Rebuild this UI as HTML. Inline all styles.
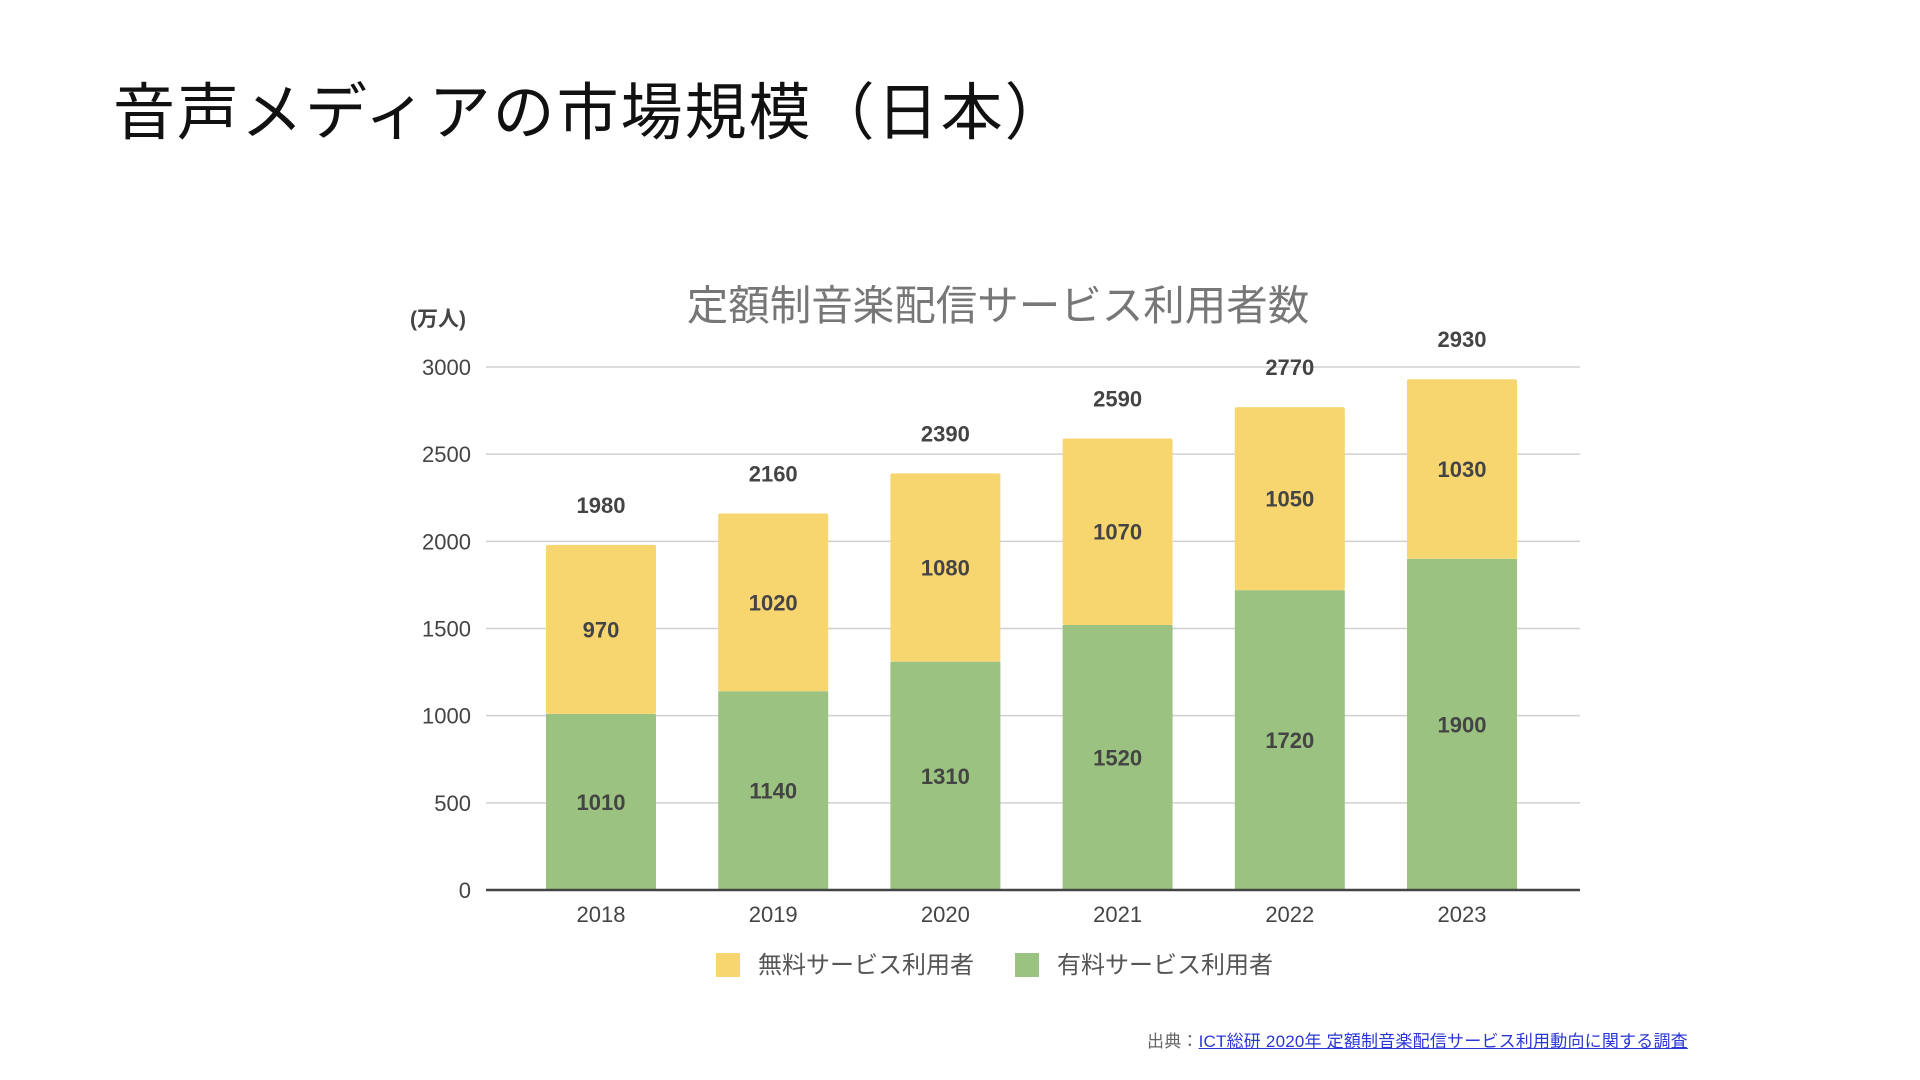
<!DOCTYPE html>
<html><head><meta charset="utf-8"><style>
html,body{margin:0;padding:0;background:#fff;}
body{width:1920px;height:1080px;position:relative;overflow:hidden;font-family:"Liberation Sans","Noto Sans CJK JP",sans-serif;}
#title{position:absolute;left:113px;top:62px;font-size:62px;color:#111;white-space:nowrap;letter-spacing:2px;}
#src{position:absolute;left:1147px;top:1027px;font-size:17px;color:#666;white-space:nowrap;letter-spacing:0.2px;}
#src a{color:#2a36d8;text-decoration:underline;}
</style></head><body>
<div id="title">音声メディアの市場規模（日本）</div>
<svg id="chart" width="1920" height="1080" style="position:absolute;left:0;top:0"></svg>
<div id="src">出典：<a>ICT総研 2020年 定額制音楽配信サービス利用動向に関する調査</a></div>
<script>
const categories=["2018","2019","2020","2021","2022","2023"];
const paidValues=[1010,1140,1310,1520,1720,1900];
const freeValues=[970,1020,1080,1070,1050,1030];
const totalValues=[1980,2160,2390,2590,2770,2930];
const yTicks=[0,500,1000,1500,2000,2500,3000];
const seriesNames=["無料サービス利用者","有料サービス利用者"];

const NS="http://www.w3.org/2000/svg";
const svg=document.getElementById('chart');
const y0=890,yTop=367,yMax=3000;
const y=v=>y0-(v/yMax)*(y0-yTop);
const x=i=>601+i*172.2;
const bw=110;
function mk(tag,attrs,parent){const e=document.createElementNS(NS,tag);for(const k in attrs)e.setAttribute(k,attrs[k]);(parent||svg).appendChild(e);return e;}
const F='"Liberation Sans","Noto Sans CJK JP",sans-serif';

let t=mk('text',{x:998,y:320,'text-anchor':'middle','font-size':41.5,fill:'#777','font-family':F});
t.textContent="定額制音楽配信サービス利用者数";


t=mk('text',{x:410,y:326,'font-size':21,'font-weight':'bold',fill:'#444','font-family':F});
t.textContent="(万人)";



yTicks.forEach(v=>{
  if(v>0){const l=mk('line',{x1:486,x2:1580,y1:y(v),y2:y(v),stroke:'#d0d0d0','stroke-width':1.5});
  
  }
  const tx=mk('text',{x:471,y:y(v)+8,'text-anchor':'end','font-size':22,fill:'#444','font-family':F});
  tx.textContent=v;
  
  
});

categories.forEach((c,i)=>{
  const cx=x(i);
  const g=mk('g',{});
  
  
  let r=mk('rect',{x:cx-bw/2,y:y(paidValues[i]),width:bw,height:y0-y(paidValues[i]),fill:'#9bc281'},g);
  
  
  r=mk('rect',{x:cx-bw/2,y:y(totalValues[i]),width:bw,height:y(paidValues[i])-y(totalValues[i]),fill:'#f7d670',rx:2},g);
  
  
  let l=mk('text',{x:cx,y:(y0+y(paidValues[i]))/2+8,'text-anchor':'middle','font-size':22,'font-weight':'bold',fill:'#444','font-family':F},g);
  l.textContent=paidValues[i];
  
  
  l=mk('text',{x:cx,y:(y(paidValues[i])+y(totalValues[i]))/2+8,'text-anchor':'middle','font-size':22,'font-weight':'bold',fill:'#444','font-family':F},g);
  l.textContent=freeValues[i];
  
  
  l=mk('text',{x:cx,y:y(totalValues[i])-32,'text-anchor':'middle','font-size':22,'font-weight':'bold',fill:'#444','font-family':F},g);
  l.textContent=totalValues[i];
  
  
  l=mk('text',{x:cx,y:922,'text-anchor':'middle','font-size':22,fill:'#444','font-family':F});
  l.textContent=c;
  
  
});
const ax=mk('line',{x1:486,x2:1580,y1:y0,y2:y0,stroke:'#444','stroke-width':2.5});



const legCols=['#f7d670','#9bc281'];
const legX=[716,1015];
seriesNames.forEach((n,i)=>{
  const g=mk('g',{});
  
  
  mk('rect',{x:legX[i],y:953,width:24,height:24,fill:legCols[i]},g);
  const tx=mk('text',{x:legX[i]+42,y:973,'font-size':24,fill:'#555','font-family':F},g);
  tx.textContent=n;
});
</script>
</body></html>
